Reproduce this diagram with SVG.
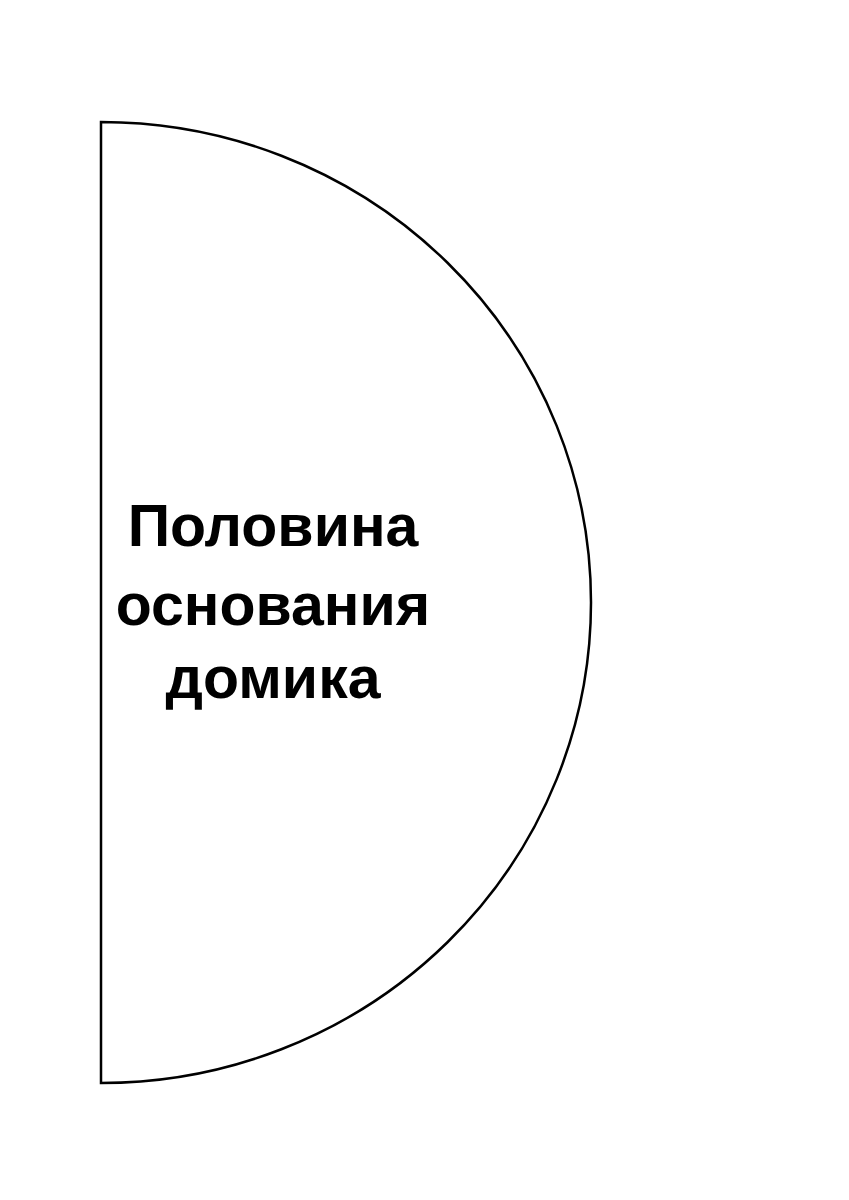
<svg xmlns="http://www.w3.org/2000/svg" width="849" height="1200" viewBox="0 0 849 1200">
<style>
.shape{fill:#fff;stroke:#000;stroke-width:2.5}
.lbl{font-family:"Liberation Sans",Arial,sans-serif;font-weight:bold;font-size:59px;fill:#000;text-anchor:middle}
</style>
<rect width="849" height="1200" fill="#fff"/>
<g id="half-base">
<path class="shape" d="M101,122 A490,480.5 0 0 1 101,1083 Z"/>
<text class="lbl" x="273" y="546">Половина</text>
<text class="lbl" x="273" y="625">основания</text>
<text class="lbl" x="273" y="698">домика</text>
</g>
</svg>
